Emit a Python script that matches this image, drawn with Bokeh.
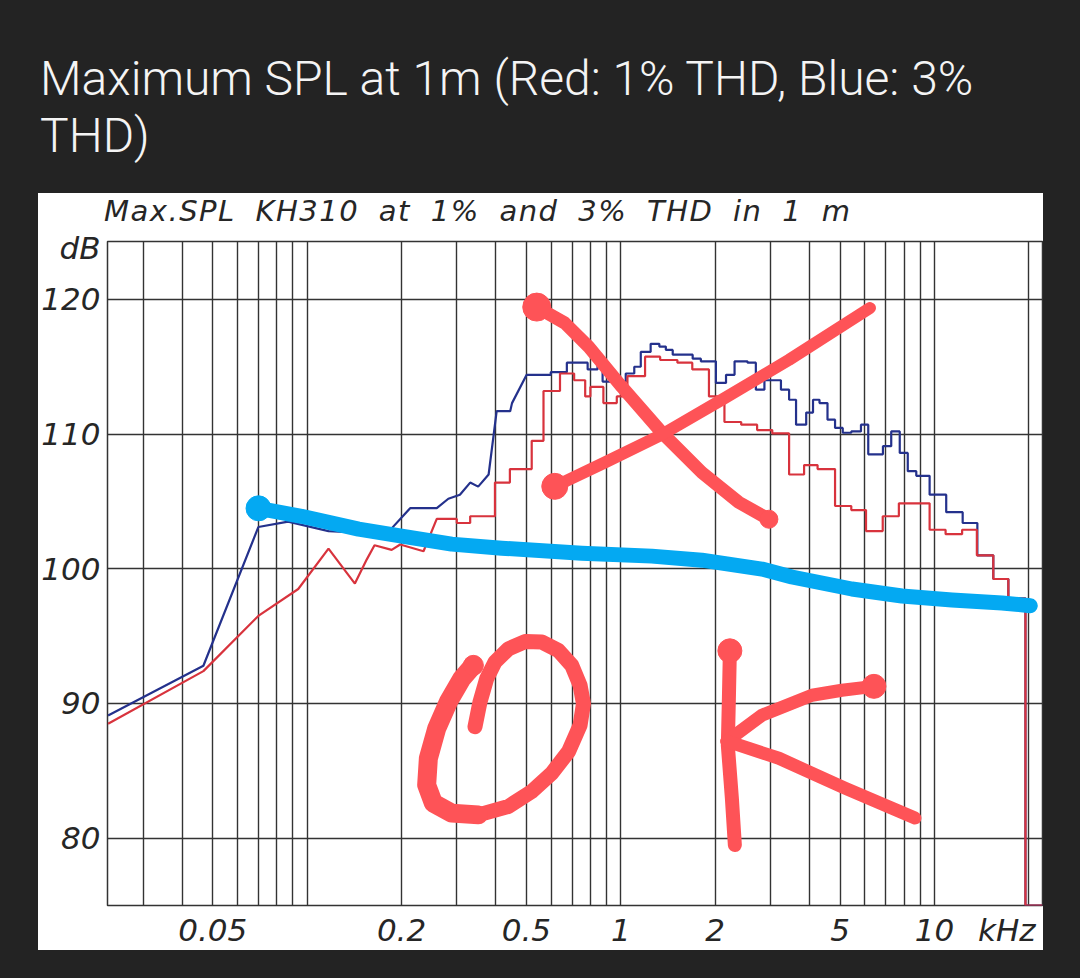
from bokeh.plotting import figure
from bokeh.models import FixedTicker, Range1d, Div, Spacer
from bokeh.layouts import column, row
from bokeh.embed import file_html
from bokeh.resources import INLINE

# ---------------- data ----------------
title_lines = ["Maximum SPL at 1m (Red: 1% THD, Blue: 3%", "THD)"]
chart_caption = "Max.SPL KH310 at 1% and 3% THD in 1 m"

x_range_khz = (0.0231, 22.1)
y_range_db = (75.0, 124.3)

y_ticks = [80, 90, 100, 110, 120]
y_unit_tick = 123.85
y_unit_label = "dB"
x_label_ticks = [0.05, 0.2, 0.5, 1, 2, 5, 10, 17]
x_label_texts = ["0.05", "0.2", "0.5", "1", "2", "5", "10", "kHz"]
x_grid_ticks = [0.03, 0.04, 0.05, 0.06, 0.07, 0.08, 0.09, 0.1,
                0.2, 0.3, 0.4, 0.5, 0.6, 0.7, 0.8, 0.9, 1,
                2, 3, 4, 5, 6, 7, 8, 9, 10, 20]

# Blue curve (3% THD): sloped low-frequency part, then stepped bands
blue_lo_khz = [0.0232, 0.0467, 0.0699, 0.087, 0.117, 0.142, 0.186, 0.213, 0.259,
               0.282, 0.307, 0.331, 0.351, 0.379, 0.402, 0.444, 0.45, 0.501]
blue_lo_db = [89.1, 92.8, 103.1, 103.5, 102.8, 102.7, 103.0, 104.5, 104.5,
              105.2, 105.5, 106.4, 106.1, 107.0, 111.7, 111.7, 112.3, 114.4]
blue_band_edges = [0.501, 0.598, 0.673, 0.784, 0.843, 0.875, 1.037, 1.104, 1.158,
                   1.245, 1.327, 1.392, 1.464, 1.695, 1.80, 2.01, 2.165, 2.305,
                   2.535, 2.695, 2.87, 3.24, 3.44, 3.62, 3.9, 4.1, 4.3, 4.56,
                   4.82, 5.1, 5.43, 5.83, 6.15, 6.85, 7.28, 7.75, 8.22, 8.75,
                   9.65, 10.9, 12.3, 13.7, 15.4, 17.2, 19.5, 22.1]
blue_band_db = [114.4, 114.6, 115.3, 114.8, 115.3, 113.9, 114.5, 115.0, 116.1,
                116.7, 116.5, 116.25, 115.9, 115.6, 115.4, 113.8, 114.4, 115.4,
                115.3, 113.3, 114.0, 113.3, 112.55, 110.7, 111.6, 112.55, 112.3,
                111.07, 110.46, 110.1, 110.2, 110.7, 108.5, 109.1, 110.2, 108.6,
                107.25, 106.9, 105.5, 104.2, 103.4, 101.0, 99.24, 97.8, 75.0]

# Red curve (1% THD)
red_lo_khz = [0.0232, 0.0467, 0.0699, 0.0937, 0.117, 0.142, 0.155, 0.164,
              0.186, 0.198, 0.235, 0.259]
red_lo_db = [88.5, 92.4, 96.5, 98.5, 101.5, 98.9, 100.7, 101.75,
             101.4, 101.8, 101.3, 103.7]
red_band_edges = [0.259, 0.30, 0.331, 0.397, 0.443, 0.52, 0.567, 0.64, 0.71,
                  0.77, 0.80, 0.88, 0.971, 1.05, 1.195, 1.335, 1.515, 1.69,
                  1.91, 2.14, 2.42, 2.72, 3.04, 3.44, 3.84, 4.24, 4.82, 5.43,
                  6.05, 6.84, 7.7, 9.65, 10.85, 12.25, 13.65, 15.4, 17.2, 19.5, 22.1]
red_band_db = [103.7, 103.4, 103.9, 106.4, 107.4, 109.5, 113.2, 114.5, 114.0,
               112.8, 113.5, 112.3, 112.8, 114.3, 115.75, 115.5, 115.3, 114.8,
               112.8, 110.9, 110.7, 110.3, 110.05, 107.0, 107.7, 107.4, 104.66,
               104.36, 102.8, 103.9, 104.86, 102.9, 102.57, 102.9, 101.0, 99.24,
               97.8, 75.0]

# Hand-drawn marks (kHz, dB)
blue_mark_khz = [0.0700, 0.0960, 0.1460, 0.2002, 0.2890, 0.4173, 0.7509, 1.2558,
                 1.813, 2.818, 3.512, 5.455, 7.877, 11.37, 16.42, 20.2]
blue_mark_db = [104.49, 103.90, 102.94, 102.43, 101.83, 101.53, 101.16, 100.94,
                100.64, 99.98, 99.39, 98.50, 97.98, 97.68, 97.46, 97.26]
x_stroke1_khz = [0.5396, 0.6629, 0.7904, 1.0074, 1.3515, 1.813, 2.379, 2.966]
x_stroke1_db = [119.43, 118.25, 116.47, 113.51, 110.11, 107.15, 104.93, 103.68]
x_stroke2_khz = [0.6159, 0.8891, 1.3515, 2.100, 3.435, 6.228]
x_stroke2_db = [106.12, 107.89, 109.96, 112.55, 115.51, 119.36]
o_khz = [0.3389, 0.3111, 0.2821, 0.2589, 0.2435, 0.2405, 0.2527, 0.2890, 0.3516,
         0.4383, 0.5200, 0.6025, 0.6810, 0.7417, 0.7603, 0.7417, 0.6978, 0.6326,
         0.5598, 0.4952, 0.4383, 0.3972, 0.3737, 0.3558, 0.3429]
o_db = [92.83, 91.84, 90.12, 88.14, 85.92, 83.95, 82.60, 81.86, 81.73,
        82.35, 83.46, 84.82, 86.42, 88.39, 89.99, 91.35, 92.83, 93.93,
        94.56, 94.60, 94.06, 93.08, 91.84, 90.12, 88.27]
k_stem_khz = [2.227, 2.211, 2.194, 2.260, 2.310]
k_stem_db = [93.91, 90.36, 86.88, 82.97, 79.49]
k_upper_khz = [6.412, 5.069, 4.068, 2.818, 2.178]
k_upper_db = [91.27, 90.98, 90.61, 89.13, 87.20]
k_lower_khz = [2.178, 3.192, 5.182, 8.665]
k_lower_db = [87.20, 85.93, 83.71, 81.49]

# ---------------- styles ----------------
DARK = "#232323"
BLUE = "#24318c"
RED = "#d8333d"
MARK_RED = "#fe5357"
MARK_BLUE = "#04a9f2"
GRID = "#333333"
INK = "#262626"
FONT = "DejaVu Sans"

PAGE_W, PAGE_H = 1080, 978
TITLE_H = 193
CAPTION_H = 36
LEFT_PAD = 38
FIG_W = 1005
RIGHT_PAD = PAGE_W - LEFT_PAD - FIG_W
B_LEFT, B_RIGHT, B_TOP, B_BOTTOM = 68, 1, 12, 42
FRAME_H = 667
FIG_H = B_TOP + FRAME_H + B_BOTTOM
BOTTOM_PAD = PAGE_H - TITLE_H - CAPTION_H - FIG_H

p = figure(width=FIG_W, height=FIG_H, x_axis_type="log",
           x_range=Range1d(*x_range_khz), y_range=Range1d(*y_range_db),
           output_backend="svg", toolbar_location=None, title=None,
           min_border_left=B_LEFT, min_border_right=B_RIGHT,
           min_border_top=B_TOP, min_border_bottom=B_BOTTOM,
           border_fill_color="white", background_fill_color="white")

p.outline_line_color = GRID
p.outline_line_width = 1.5

p.xgrid.ticker = FixedTicker(ticks=x_grid_ticks)
p.ygrid.ticker = FixedTicker(ticks=y_ticks)
for g in (p.xgrid, p.ygrid):
    g.grid_line_color = GRID
    g.grid_line_width = 1.4

p.xaxis.ticker = FixedTicker(ticks=x_label_ticks)
p.xaxis.major_label_overrides = dict(zip(x_label_ticks, x_label_texts))
p.yaxis.ticker = FixedTicker(ticks=y_ticks + [y_unit_tick])
p.yaxis.major_label_overrides = {y_unit_tick: y_unit_label}
for ax in (p.xaxis, p.yaxis):
    ax.axis_line_color = None
    ax.major_tick_line_color = None
    ax.minor_tick_line_color = None
    ax.major_tick_out = 0
    ax.major_tick_in = 0
    ax.major_label_text_font = FONT
    ax.major_label_text_font_style = "italic"
    ax.major_label_text_font_size = "31px"
    ax.major_label_text_color = INK
p.xaxis.major_label_standoff = 6
p.yaxis.major_label_standoff = 7


def bands(edges, levels):
    xs, ys = [], []
    for i, lv in enumerate(levels):
        xs += [edges[i], edges[i + 1]]
        ys += [lv, lv]
    return xs, ys


bx, by = bands(blue_band_edges, blue_band_db)
rx, ry = bands(red_band_edges, red_band_db)
p.line(blue_lo_khz + bx, blue_lo_db + by, line_color=BLUE, line_width=2.2)
p.line(red_lo_khz + rx, red_lo_db + ry, line_color=RED, line_width=2.2)


def stroke(xs, ys, color, width):
    p.line(xs, ys, line_color=color, line_width=width,
           line_cap="round", line_join="round")


stroke(blue_mark_khz, blue_mark_db, MARK_BLUE, 15)
p.scatter([blue_mark_khz[0]], [blue_mark_db[0]], size=25, color=MARK_BLUE)

stroke(x_stroke1_khz, x_stroke1_db, MARK_RED, 13)
stroke(x_stroke2_khz, x_stroke2_db, MARK_RED, 12)
p.scatter([x_stroke1_khz[0], x_stroke1_khz[-1], x_stroke2_khz[0]],
          [x_stroke1_db[0], x_stroke1_db[-1], x_stroke2_db[0]],
          size=[28, 18, 26], color=MARK_RED)

stroke(o_khz, o_db, MARK_RED, 15)
stroke(o_khz[:9], o_db[:9], MARK_RED, 19)
stroke(k_stem_khz, k_stem_db, MARK_RED, 14)
stroke(k_upper_khz, k_upper_db, MARK_RED, 13)
stroke(k_lower_khz, k_lower_db, MARK_RED, 13)
p.scatter([k_stem_khz[0], k_upper_khz[0], o_khz[0]],
          [k_stem_db[0], k_upper_db[0], o_db[0]],
          size=[24, 24, 20], color=MARK_RED)

title_html = (
    '<div style="padding:51px 0 0 40px; line-height:56.7px; white-space:nowrap;'
    ' font-family:Roboto; font-weight:300; font-size:48px; color:#f4f4f4;">'
    + "<br>".join(title_lines) + "</div>"
)
caption_html = (
    '<div style="padding:1px 0 0 66px; line-height:34px; white-space:nowrap;'
    " font-family:'DejaVu Sans'; font-style:italic; font-size:29px;"
    ' letter-spacing:1.5px; word-spacing:9px; color:#262626;">'
    + chart_caption + "</div>"
)


def dark(w, h):
    return Spacer(width=w, height=h, margin=0, styles={"background-color": DARK})


title = Div(text=title_html, width=PAGE_W, height=TITLE_H, margin=0,
            styles={"background-color": DARK})
caption = Div(text=caption_html, width=FIG_W, height=CAPTION_H, margin=0,
              styles={"background-color": "white"})

layout = column(
    title,
    row(dark(LEFT_PAD, CAPTION_H), caption, dark(RIGHT_PAD, CAPTION_H), spacing=0),
    row(dark(LEFT_PAD, FIG_H), p, dark(RIGHT_PAD, FIG_H), spacing=0),
    dark(PAGE_W, BOTTOM_PAD),
    spacing=0,
)

open("out.html", "w").write(file_html(layout, INLINE))
